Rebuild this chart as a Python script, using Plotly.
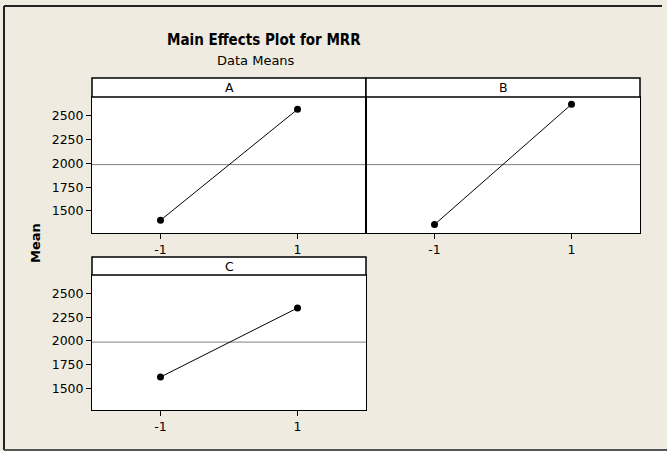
import plotly.graph_objects as go

# Main effects for MRR: mean response at each factor level
levels = [-1, 1]
level_labels = ["-1", "1"]
factors = ["A", "B", "C"]
mean_A = [1402, 2570]
mean_B = [1357, 2623]
mean_C = [1618, 2350]
grand_mean = 1988
y_ticks = [1500, 1750, 2000, 2250, 2500]

W, H = 667, 451
BG = "#EFEBE1"
FONT = "Tahoma, DejaVu Sans, sans-serif"
TITLE_FONT = "Liberation Sans Narrow, DejaVu Sans Condensed, DejaVu Sans, sans-serif"


def px_x(v):
    return v / W


def px_y(v):
    return 1 - v / H


# panel geometry (pixels): left, right, top of strip, top of plot, bottom of plot
panels = {
    "A": (92, 366, 78, 97, 233),
    "B": (366, 640, 78, 97, 233),
    "C": (92, 366, 257, 275, 410),
}
series = {"A": mean_A, "B": mean_B, "C": mean_C}
axis_ids = {"A": ("x", "y"), "B": ("x2", "y2"), "C": ("x3", "y3")}

fig = go.Figure()
layout = dict(
    width=W, height=H,
    margin=dict(l=0, r=0, t=0, b=0),
    paper_bgcolor=BG, plot_bgcolor="white",
    showlegend=False,
    font=dict(family=FONT, size=12, color="black"),
)

shapes = []
annotations = []

for f in factors:
    xl, xr, st, pt, pb = panels[f]
    xa, ya = axis_ids[f]
    fig.add_trace(go.Scatter(
        x=levels, y=series[f], xaxis=xa, yaxis=ya,
        mode="lines+markers",
        line=dict(color="black", width=1),
        marker=dict(color="black", size=7),
        hoverinfo="x+y",
    ))
    xkey = "xaxis" if xa == "x" else "xaxis" + xa[1:]
    ykey = "yaxis" if ya == "y" else "yaxis" + ya[1:]
    layout[xkey] = dict(
        domain=[px_x(xl), px_x(xr)], anchor=ya, range=[-2, 2],
        tickvals=levels, ticktext=level_labels,
        ticks="outside", ticklen=5, tickcolor="black",
        showline=True, linecolor="black", linewidth=1, mirror=True,
        showgrid=False, zeroline=False,
        tickfont=dict(family=FONT, size=12.5),
    )
    layout[ykey] = dict(
        domain=[px_y(pb), px_y(pt)], anchor=xa, range=[1268, 2700],
        tickvals=y_ticks, showticklabels=(f != "B"),
        ticks="outside" if f != "B" else "", ticklen=5, tickcolor="black",
        showline=True, linecolor="black", linewidth=1, mirror=True,
        showgrid=False, zeroline=False,
        tickfont=dict(family=FONT, size=12.5),
    )
    # grand mean reference line
    shapes.append(dict(
        type="line", xref=f"{xa} domain", yref=ya,
        x0=0, x1=1, y0=grand_mean, y1=grand_mean,
        line=dict(color="#808080", width=1), layer="below",
    ))
    # factor strip header
    shapes.append(dict(
        type="rect", xref="paper", yref="paper",
        x0=px_x(xl), x1=px_x(xr), y0=px_y(pt), y1=px_y(st),
        fillcolor="white", line=dict(color="black", width=1.5),
    ))
    annotations.append(dict(
        text=f, xref="paper", yref="paper",
        x=px_x((xl + xr) / 2), y=px_y((st + pt) / 2),
        xanchor="center", yanchor="middle", showarrow=False,
        font=dict(family=FONT, size=12.5),
    ))

# outer frame
frame = dict(color="#222222", width=2)
shapes += [
    dict(type="line", xref="paper", yref="paper", x0=px_x(4), x1=px_x(662),
         y0=px_y(6), y1=px_y(6), line=frame),
    dict(type="line", xref="paper", yref="paper", x0=px_x(4), x1=px_x(4),
         y0=px_y(6), y1=px_y(450), line=frame),
    dict(type="line", xref="paper", yref="paper", x0=px_x(4), x1=px_x(667),
         y0=px_y(450), y1=px_y(450), line=dict(color="#555555", width=2)),
]

annotations += [
    dict(text="<b>Main Effects Plot for MRR</b>", xref="paper", yref="paper",
         x=px_x(264), y=px_y(40), xanchor="center", yanchor="middle",
         showarrow=False, font=dict(family=TITLE_FONT, size=15)),
    dict(text="Data Means", xref="paper", yref="paper",
         x=px_x(256), y=px_y(60), xanchor="center", yanchor="middle",
         showarrow=False, font=dict(family=FONT, size=13)),
    dict(text="<b>Mean</b>", xref="paper", yref="paper",
         x=px_x(35), y=px_y(243), xanchor="center", yanchor="middle",
         textangle=-90, showarrow=False, font=dict(family=FONT, size=13)),
]

layout["shapes"] = shapes
layout["annotations"] = annotations
fig.update_layout(**layout)
fig.write_html("out.html")
